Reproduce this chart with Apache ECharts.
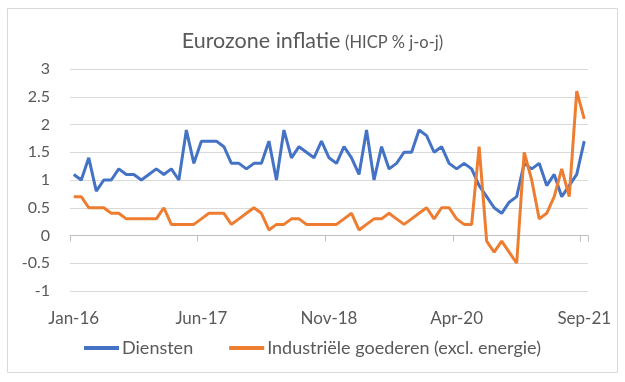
<!DOCTYPE html>
<html><head><meta charset="utf-8">
<script src="https://cdn.jsdelivr.net/npm/echarts@6/dist/echarts.min.js"></script>
<style>html,body{margin:0;padding:0;background:#fff;}#c{width:625px;height:382px;}</style>
</head><body><div id="c"></div>
<script>
const months = ['Jan','Feb','Mar','Apr','May','Jun','Jul','Aug','Sep','Oct','Nov','Dec'];
const categories = [];
for (let y = 16; y <= 21; y++) for (let m = 0; m < 12; m++) { if (y === 21 && m > 8) break; categories.push(months[m] + '-' + y); }
const tickLabels = ['Jan-16','Jun-17','Nov-18','Apr-20','Sep-21'];
const diensten = [1.1,1.0,1.4,0.8,1.0,1.0,1.2,1.1,1.1,1.0,1.1,1.2,
  1.1,1.2,1.0,1.9,1.3,1.7,1.7,1.7,1.6,1.3,1.3,1.2,
  1.3,1.3,1.7,1.0,1.9,1.4,1.6,1.5,1.4,1.7,1.4,1.3,
  1.6,1.4,1.1,1.9,1.0,1.6,1.2,1.3,1.5,1.5,1.9,1.8,
  1.5,1.6,1.3,1.2,1.3,1.2,0.9,0.7,0.5,0.4,0.6,0.7,
  1.3,1.2,1.3,0.9,1.1,0.7,0.9,1.1,1.7];
const industrie = [0.7,0.7,0.5,0.5,0.5,0.4,0.4,0.3,0.3,0.3,0.3,0.3,
  0.5,0.2,0.2,0.2,0.2,0.3,0.4,0.4,0.4,0.2,0.3,0.4,
  0.5,0.4,0.1,0.2,0.2,0.3,0.3,0.2,0.2,0.2,0.2,0.2,
  0.3,0.4,0.1,0.2,0.3,0.3,0.4,0.3,0.2,0.3,0.4,0.5,
  0.3,0.5,0.5,0.3,0.2,0.2,1.6,-0.1,-0.3,-0.1,-0.3,-0.5,
  1.5,1.0,0.3,0.4,0.7,1.2,0.7,2.6,2.1];
const yTicks = {min:-1, max:3, interval:0.5};
const txt = '#595959';
const font = 'Lato';
const chart = echarts.init(document.getElementById('c'));
chart.setOption({
  animation:false,
  textStyle:{fontFamily:font},
  graphic:[{type:'rect',shape:{x:7.5,y:8.5,width:610,height:364},style:{fill:'none',stroke:'#d9d9d9',lineWidth:1}}],
  title:{left:'center',top:25,text:'{a|Eurozone inflatie} {b|(HICP % j-o-j)}',
    textStyle:{fontWeight:'normal',rich:{a:{fontSize:21.5,color:txt,fontFamily:font,fontWeight:'normal'},b:{fontSize:16.5,color:txt,fontFamily:font,fontWeight:'normal',padding:[3,0,0,0]}}}},
  legend:{top:334,left:'center',itemWidth:35,itemHeight:4,itemGap:36,icon:'rect',
    textStyle:{fontSize:18,color:txt,fontFamily:font,padding:[0,0,0,-2]},
    data:['Diensten','Industriële goederen (excl. energie)']},
  grid:{left:70,right:37,top:69,bottom:91},
  xAxis:[{type:'category',data:categories,boundaryGap:true,position:'bottom',
      axisLine:{show:false,onZero:false},axisTick:{show:false},
      axisLabel:{interval:16,margin:19,fontSize:17,color:txt,fontFamily:font,formatter:v=>tickLabels.includes(v)?v:''}},
    {type:'category',data:categories,boundaryGap:true,position:'bottom',
      axisLine:{show:true,onZero:true,lineStyle:{color:'#bfbfbf',width:1}},
      axisTick:{show:true,interval:16,length:6,lineStyle:{color:'#bfbfbf'}},
      axisLabel:{show:false}}],
  yAxis:{type:'value',min:yTicks.min,max:yTicks.max,interval:yTicks.interval,
    axisLine:{show:false},axisTick:{show:false},
    splitLine:{lineStyle:{color:'#d9d9d9',width:1}},
    axisLabel:{fontSize:16,color:txt,margin:20,fontFamily:font}},
  series:[
    {name:'Diensten',type:'line',xAxisIndex:0,data:diensten,symbol:'none',lineStyle:{width:3,color:'#4472c4'},itemStyle:{color:'#4472c4'}},
    {name:'Industriële goederen (excl. energie)',type:'line',xAxisIndex:0,data:industrie,symbol:'none',lineStyle:{width:3,color:'#ed7d31'},itemStyle:{color:'#ed7d31'}}
  ]
});
</script></body></html>
